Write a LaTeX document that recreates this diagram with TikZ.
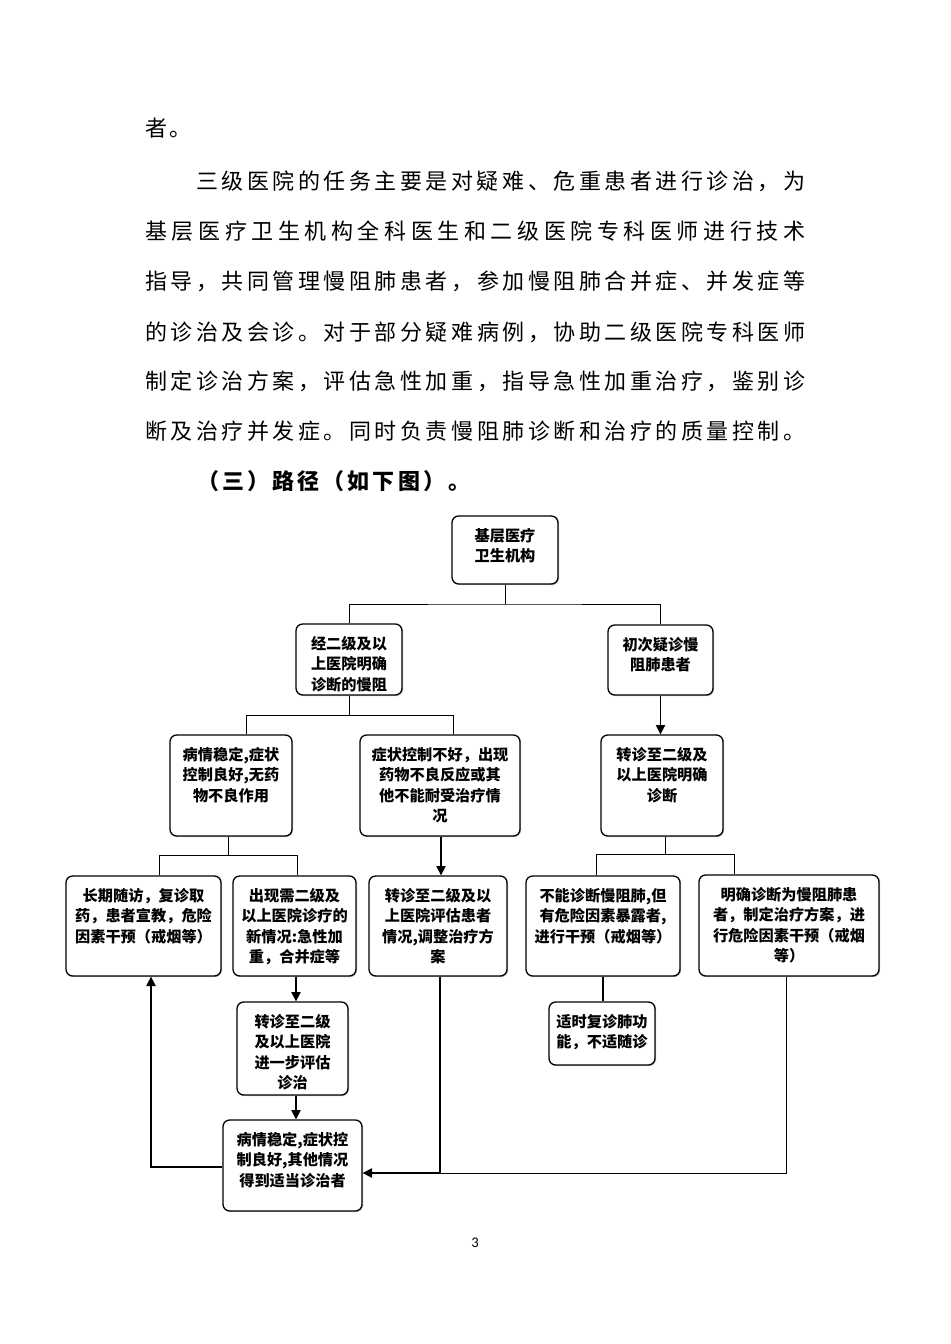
\documentclass[tikz,border=0pt]{standalone}
\usepackage{fontspec}
\newfontfamily\cjk{Noto Sans CJK SC}
\newfontfamily\latinf{Carlito}
\usetikzlibrary{arrows.meta,shadows,calc}
\newdimen\pxu \pxu=0.75pt
\def\spreadA#1{#1\spreadB}
\def\spreadB#1{\ifx#1\relax\else\hfil#1\expandafter\spreadB\fi}
\newcommand\bodyline[2]{\makebox[\dimexpr\pxu*#1\relax][s]{\spreadA#2\relax}}
\newcommand\bodyfont{\cjk\fontsize{16.5pt}{20pt}\selectfont}
\newcommand\headfont{\cjk\bfseries\fontsize{16.5pt}{20pt}\selectfont}
\newcommand\boxfont{\cjk\bfseries\fontsize{11.4pt}{15.4pt}\selectfont}
\newcommand\flowbox[6]{\node[fbox] (#1) at ({(#2+#4)/2},{(#3+#5)/2}) {\begin{minipage}[c][\dimexpr\pxu*(#5-#3)\relax][t]{\dimexpr\pxu*(#4-#2)\relax}\centering\vspace*{9pt}#6\end{minipage}};}
\tikzset{
  fbox/.style={draw, line width=1pt, rounded corners=5pt, inner sep=0pt, fill=white,
    drop shadow={shadow xshift=0.8pt, shadow yshift=-0.8pt, fill=black!45}, font=\boxfont},
  conn/.style={line width=0.75pt},
  arr/.style={line width=1pt, -{Triangle[length=7pt,width=7pt]}},
  body/.style={anchor=base west, inner sep=0pt, font=\bodyfont},
}
\begin{document}
\begin{tikzpicture}[x=0.75pt,y=-0.75pt]
\fill[white] (0,0) rectangle (950,1344);
\useasboundingbox (0,0) rectangle (950,1344);
% body text
\node[body] (t1) at (145,137) {\bodyline{46}{者。}};
\node[body] (t2) at (196,190) {\bodyline{609}{三级医院的任务主要是对疑难、危重患者进行诊治，为}};
\node[body] (t3) at (145,240) {\bodyline{660}{基层医疗卫生机构全科医生和二级医院专科医师进行技术}};
\node[body] (t4) at (145,290) {\bodyline{660}{指导，共同管理慢阻肺患者，参加慢阻肺合并症、并发症等}};
\node[body] (t5) at (145,340) {\bodyline{660}{的诊治及会诊。对于部分疑难病例，协助二级医院专科医师}};
\node[body] (t6) at (145,389) {\bodyline{660}{制定诊治方案，评估急性加重，指导急性加重治疗，鉴别诊}};
\node[body] (t7) at (145,439) {\bodyline{660}{断及治疗并发症。同时负责慢阻肺诊断和治疗的质量控制。}};
\node[anchor=base west, inner sep=0pt, font=\headfont] (hd) at (197,489) {\bodyline{273}{（三）路径（如下图）。}};
% boxes
\flowbox{A}{452}{516}{558}{584}{基层医疗\\卫生机构}
\flowbox{B}{296}{624}{402}{695}{经二级及以\\上医院明确\\诊断的慢阻}
\flowbox{C}{608}{625}{713}{695}{初次疑诊慢\\阻肺患者}
\flowbox{D}{170}{735}{292}{836}{病情稳定,症状\\控制良好,无药\\物不良作用}
\flowbox{E}{360}{735}{520}{836}{症状控制不好，出现\\药物不良反应或其\\他不能耐受治疗情\\况}
\flowbox{K}{601}{735}{723}{836}{转诊至二级及\\以上医院明确\\诊断}
\flowbox{F}{66}{876}{221}{976}{长期随访，复诊取\\药，患者宣教，危险\\因素干预（戒烟等）}
\flowbox{G}{233}{876}{356}{976}{出现需二级及\\以上医院诊疗的\\新情况:急性加\\重，合并症等}
\flowbox{H}{369}{876}{507}{976}{转诊至二级及以\\上医院评估患者\\情况,调整治疗方\\案}
\flowbox{L}{526}{876}{680}{976}{不能诊断慢阻肺,但\\有危险因素暴露者,\\进行干预（戒烟等）}
\flowbox{M}{699}{875}{879}{976}{明确诊断为慢阻肺患\\者，制定治疗方案，进\\行危险因素干预（戒烟\\等）}
\flowbox{I}{237}{1002}{348}{1095}{转诊至二级\\及以上医院\\进一步评估\\诊治}
\flowbox{J}{223}{1120}{362}{1211}{病情稳定,症状控\\制良好,其他情况\\得到适当诊治者}
\flowbox{N}{549}{1002}{655}{1065}{适时复诊肺功\\能，不适随诊}
% connectors
\coordinate (bA) at (505,604);
\draw[conn] (A.south) -- (bA);
\draw[conn] (B.north) |- (bA) -| (C.north);
\coordinate (bB) at (349,715);
\coordinate (bBl) at (246,715);
\coordinate (bBr) at (453,715);
\draw[conn] (B.south) -- (bB);
\draw[conn] (bBl |- D.north) -- (bBl) -- (bBr) -- (bBr |- E.north);
\coordinate (bD) at (228,855);
\coordinate (bDl) at (159,855);
\coordinate (bDr) at (297,855);
\draw[conn] (D.south -| bD) -- (bD);
\draw[conn] (bDl |- F.north) -- (bDl) -- (bDr) -- (bDr |- G.north);
\coordinate (bK) at (665,854);
\coordinate (bKl) at (596,854);
\coordinate (bKr) at (734,854);
\draw[conn] (K.south -| bK) -- (bK);
\draw[conn] (bKl |- L.north) -- (bKl) -- (bKr) -- (bKr |- M.north);
\draw[arr] (C.south) -- (C.south |- K.north);
\coordinate (eh) at (441,0);
\draw[arr] (E.south -| eh) -- (H.north -| eh);
\coordinate (gi) at (296,0);
\draw[arr] (G.south -| gi) -- (I.north -| gi);
\draw[arr] (I.south -| gi) -- (J.north -| gi);
\coordinate (jf) at (151,1167);
\draw[arr] (J.west |- jf) -- (jf) -- (jf |- F.south);
\coordinate (hj) at (440,1173);
\draw[arr] (H.south -| hj) -- (hj) -- (J.east |- hj);
\coordinate (mx) at (786,1173);
\draw[conn] (M.south -| mx) -- (mx) -- (hj);
\coordinate (ln) at (603,0);
\draw[line width=1.2pt] (L.south -| ln) -- (N.north -| ln);
% page number
\node[font=\latinf\fontsize{11pt}{13pt}\selectfont, inner sep=0pt] (pg) at (475,1243) {3};
\end{tikzpicture}
\end{document}
